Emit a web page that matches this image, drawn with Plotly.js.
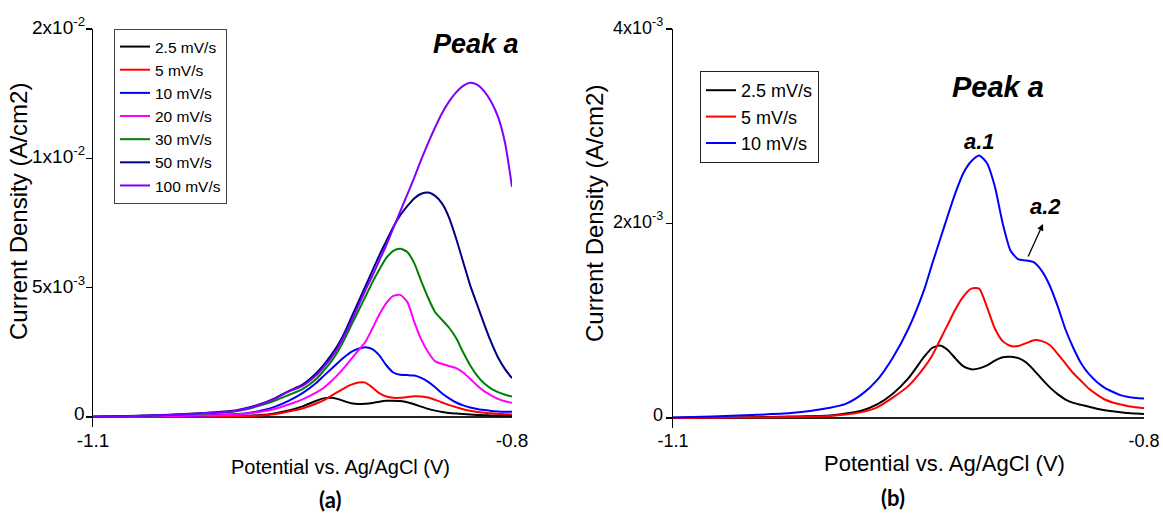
<!DOCTYPE html>
<html><head><meta charset="utf-8">
<script src="https://cdn.plot.ly/plotly-3.0.1.min.js"></script>
<style>html,body{margin:0;padding:0;background:#fff}#chart{width:1163px;height:513px}</style>
</head><body><div id="chart"></div>
<script>
// Potential (V vs Ag/AgCl)
const potential = [-1.1, -1.075, -1.05, -1.025, -1.0, -0.99, -0.98, -0.97, -0.96, -0.95, -0.94, -0.935, -0.93, -0.925, -0.92, -0.915, -0.91, -0.905, -0.9, -0.895, -0.89, -0.885, -0.88, -0.875, -0.87, -0.865, -0.86, -0.855, -0.85, -0.845, -0.84, -0.835, -0.83, -0.825, -0.82, -0.815, -0.81, -0.805, -0.8];
// Current density (A/cm2) for each scan rate
const j2_5 = [0.002e-3, 0.004e-3, 0.008e-3, 0.015e-3, 0.025e-3, 0.045e-3, 0.075e-3, 0.14e-3, 0.25e-3, 0.41e-3, 0.63e-3, 0.72e-3, 0.745e-3, 0.70e-3, 0.61e-3, 0.53e-3, 0.50e-3, 0.51e-3, 0.54e-3, 0.59e-3, 0.625e-3, 0.63e-3, 0.615e-3, 0.57e-3, 0.49e-3, 0.40e-3, 0.315e-3, 0.245e-3, 0.19e-3, 0.155e-3, 0.135e-3, 0.115e-3, 0.095e-3, 0.08e-3, 0.07e-3, 0.06e-3, 0.05e-3, 0.045e-3, 0.04e-3];
const j5 = [0.001e-3, 0.003e-3, 0.005e-3, 0.01e-3, 0.02e-3, 0.035e-3, 0.06e-3, 0.11e-3, 0.21e-3, 0.33e-3, 0.52e-3, 0.64e-3, 0.80e-3, 0.96e-3, 1.12e-3, 1.25e-3, 1.33e-3, 1.33e-3, 1.14e-3, 0.92e-3, 0.79e-3, 0.74e-3, 0.74e-3, 0.77e-3, 0.80e-3, 0.79e-3, 0.75e-3, 0.66e-3, 0.56e-3, 0.46e-3, 0.38e-3, 0.30e-3, 0.24e-3, 0.19e-3, 0.16e-3, 0.14e-3, 0.12e-3, 0.11e-3, 0.10e-3];
const j10 = [0.005e-3, 0.015e-3, 0.03e-3, 0.05e-3, 0.105e-3, 0.145e-3, 0.24e-3, 0.39e-3, 0.62e-3, 0.92e-3, 1.32e-3, 1.58e-3, 1.83e-3, 2.08e-3, 2.32e-3, 2.52e-3, 2.64e-3, 2.70e-3, 2.62e-3, 2.38e-3, 2.0e-3, 1.72e-3, 1.63e-3, 1.62e-3, 1.60e-3, 1.51e-3, 1.36e-3, 1.15e-3, 0.91e-3, 0.72e-3, 0.56e-3, 0.45e-3, 0.37e-3, 0.31e-3, 0.27e-3, 0.235e-3, 0.215e-3, 0.205e-3, 0.20e-3];
const j20 = [0.005e-3, 0.015e-3, 0.03e-3, 0.055e-3, 0.09e-3, 0.13e-3, 0.20e-3, 0.31e-3, 0.48e-3, 0.68e-3, 0.95e-3, 1.12e-3, 1.35e-3, 1.62e-3, 1.92e-3, 2.25e-3, 2.58e-3, 2.90e-3, 3.42e-3, 3.96e-3, 4.4e-3, 4.68e-3, 4.72e-3, 4.45e-3, 3.68e-3, 3.0e-3, 2.5e-3, 2.15e-3, 2.05e-3, 1.97e-3, 1.89e-3, 1.72e-3, 1.48e-3, 1.22e-3, 1.0e-3, 0.84e-3, 0.70e-3, 0.61e-3, 0.55e-3];
const j30 = [0.01e-3, 0.03e-3, 0.07e-3, 0.12e-3, 0.2e-3, 0.30e-3, 0.45e-3, 0.63e-3, 0.85e-3, 1.08e-3, 1.48e-3, 1.78e-3, 2.1e-3, 2.5e-3, 3.0e-3, 3.55e-3, 4.1e-3, 4.65e-3, 5.2e-3, 5.7e-3, 6.15e-3, 6.42e-3, 6.5e-3, 6.38e-3, 5.95e-3, 5.25e-3, 4.6e-3, 4.05e-3, 3.75e-3, 3.45e-3, 3.05e-3, 2.5e-3, 2.0e-3, 1.6e-3, 1.3e-3, 1.1e-3, 0.96e-3, 0.86e-3, 0.79e-3];
const j50 = [0.01e-3, 0.035e-3, 0.08e-3, 0.14e-3, 0.24e-3, 0.35e-3, 0.5e-3, 0.72e-3, 1.0e-3, 1.25e-3, 1.7e-3, 2.0e-3, 2.35e-3, 2.75e-3, 3.25e-3, 3.85e-3, 4.45e-3, 5.05e-3, 5.65e-3, 6.25e-3, 6.8e-3, 7.35e-3, 7.8e-3, 8.15e-3, 8.45e-3, 8.63e-3, 8.68e-3, 8.55e-3, 8.25e-3, 7.7e-3, 6.9e-3, 6.0e-3, 5.1e-3, 4.35e-3, 3.6e-3, 2.9e-3, 2.3e-3, 1.85e-3, 1.5e-3];
const j100 = [0.01e-3, 0.03e-3, 0.07e-3, 0.13e-3, 0.22e-3, 0.33e-3, 0.48e-3, 0.70e-3, 0.98e-3, 1.2e-3, 1.62e-3, 1.92e-3, 2.25e-3, 2.65e-3, 3.15e-3, 3.7e-3, 4.3e-3, 4.9e-3, 5.45e-3, 6.05e-3, 6.65e-3, 7.3e-3, 7.95e-3, 8.6e-3, 9.25e-3, 9.95e-3, 10.6e-3, 11.2e-3, 11.75e-3, 12.2e-3, 12.55e-3, 12.8e-3, 12.92e-3, 12.85e-3, 12.6e-3, 12.2e-3, 11.6e-3, 10.6e-3, 8.9e-3];

const seriesNames = ['2.5 mV/s', '5 mV/s', '10 mV/s', '20 mV/s', '30 mV/s', '50 mV/s', '100 mV/s'];
const seriesA = [j2_5, j5, j10, j20, j30, j50, j100];
const seriesB = [j2_5, j5, j10];
const seriesColors = ['#000000', '#ff0000', '#0000ff', '#ff00ff', '#008000', '#000080', '#8000ff'];

const xTickVals = [-1.1, -0.8];
const xTickText = ['-1.1', '-0.8'];
const yTickValsA = [0, 0.005, 0.01, 0.015];
const yTickTextA = ['0', '5x10<sup>-3</sup>', '1x10<sup>-2</sup>', '2x10<sup>-2</sup>'];
const yTickValsB = [0, 0.002, 0.004];
const yTickTextB = ['0', '2x10<sup>-3</sup>', '4x10<sup>-3</sup>'];

const W = 1163, H = 513;
const px = v => v / W;
const py = v => 1 - v / H;
const REG = 'Liberation Sans, Arial, sans-serif';
const BOLDF = 'Lato, Liberation Sans, sans-serif';

const traces = [];
seriesA.forEach((s, i) => traces.push({
  x: potential, y: s, type: 'scatter', mode: 'lines', name: seriesNames[i],
  line: {color: seriesColors[i], width: 2, shape: 'spline', smoothing: 0.6},
  xaxis: 'x', yaxis: 'y', legend: 'legend', hoverinfo: 'skip'
}));
seriesB.forEach((s, i) => traces.push({
  x: potential, y: s, type: 'scatter', mode: 'lines', name: seriesNames[i],
  line: {color: seriesColors[i], width: 2, shape: 'spline', smoothing: 0.6},
  xaxis: 'x2', yaxis: 'y2', legend: 'legend2', hoverinfo: 'skip'
}));

const yCommon = {
  showgrid: false, showline: true, linecolor: '#000', linewidth: 1.5,
  ticks: 'outside', ticklen: 6, tickwidth: 1.5, tickcolor: '#000',
  zeroline: true, zerolinecolor: '#222', zerolinewidth: 1.5,
  tickmode: 'array', showticklabels: false
};
const xCommon = {
  showgrid: false, showline: false, zeroline: false, ticks: '',
  tickmode: 'array', tickvals: xTickVals, ticktext: xTickText, range: [-1.1, -0.8]
};

// y tick labels drawn as annotations so they sit right against the tick marks
const tickAnnots = [];
yTickValsA.forEach((v, i) => tickAnnots.push({
  text: yTickTextA[i], xref: 'paper', yref: 'y', x: px(87), y: v, yshift: 3,
  xanchor: 'right', yanchor: 'middle', showarrow: false, font: {family: REG, size: 19, color: '#000'}
}));
yTickValsB.forEach((v, i) => tickAnnots.push({
  text: yTickTextB[i], xref: 'paper', yref: 'y2', x: px(665), y: v, yshift: 3,
  xanchor: 'right', yanchor: 'middle', showarrow: false, font: {family: REG, size: 18, color: '#000'}
}));

const layout = {
  width: W, height: H, margin: {l: 0, r: 0, t: 0, b: 0},
  paper_bgcolor: '#fff', plot_bgcolor: '#fff',
  font: {family: REG, color: '#000'},
  showlegend: true,
  xaxis: Object.assign({}, xCommon, {domain: [px(93), px(512)], anchor: 'y',
    tickfont: {family: REG, size: 19}}),
  yaxis: Object.assign({}, yCommon, {domain: [py(427), py(29)], anchor: 'x',
    range: [-0.000387, 0.015], tickvals: yTickValsA}),
  xaxis2: Object.assign({}, xCommon, {domain: [px(673), px(1144)], anchor: 'y2',
    tickfont: {family: REG, size: 18}}),
  yaxis2: Object.assign({}, yCommon, {domain: [py(428), py(29)], anchor: 'x2',
    range: [-0.000103, 0.004], tickvals: yTickValsB}),
  legend: {x: px(114), y: py(29), xanchor: 'left', yanchor: 'top',
    bgcolor: '#fff', bordercolor: '#444', borderwidth: 1,
    font: {family: REG, size: 15.5, color: '#000'}, tracegroupgap: 0},
  legend2: {x: px(700), y: py(71), xanchor: 'left', yanchor: 'top',
    bgcolor: '#fff', bordercolor: '#222', borderwidth: 1,
    font: {family: REG, size: 18, color: '#000'}, tracegroupgap: 0},
  annotations: tickAnnots.concat([
    {text: 'Current Density (A/cm2)', xref: 'paper', yref: 'paper', x: px(18), y: py(212),
      textangle: -90, showarrow: false, font: {family: REG, size: 24}, xanchor: 'center', yanchor: 'middle'},
    {text: 'Potential vs. Ag/AgCl (V)', xref: 'paper', yref: 'paper', x: px(340), y: py(467),
      showarrow: false, font: {family: REG, size: 20}, xanchor: 'center', yanchor: 'middle'},
    {text: '<b>(a)</b>', xref: 'paper', yref: 'paper', x: px(330), y: py(499),
      showarrow: false, font: {family: BOLDF, size: 22}, xanchor: 'center', yanchor: 'middle'},
    {text: '<b><i>Peak a</i></b>', xref: 'paper', yref: 'paper', x: px(476), y: py(44),
      showarrow: false, font: {family: REG, size: 27}, xanchor: 'center', yanchor: 'middle'},
    {text: 'Current Density (A/cm2)', xref: 'paper', yref: 'paper', x: px(594), y: py(214),
      textangle: -90, showarrow: false, font: {family: REG, size: 24}, xanchor: 'center', yanchor: 'middle'},
    {text: 'Potential vs. Ag/AgCl (V)', xref: 'paper', yref: 'paper', x: px(944), y: py(463),
      showarrow: false, font: {family: REG, size: 22}, xanchor: 'center', yanchor: 'middle'},
    {text: '<b>(b)</b>', xref: 'paper', yref: 'paper', x: px(893), y: py(497),
      showarrow: false, font: {family: BOLDF, size: 22}, xanchor: 'center', yanchor: 'middle'},
    {text: '<b><i>Peak a</i></b>', xref: 'paper', yref: 'paper', x: px(998), y: py(87),
      showarrow: false, font: {family: REG, size: 29}, xanchor: 'center', yanchor: 'middle'},
    {text: '<b><i>a.1</i></b>', xref: 'paper', yref: 'paper', x: px(979), y: py(141),
      showarrow: false, font: {family: REG, size: 22}, xanchor: 'center', yanchor: 'middle'},
    {text: '<b><i>a.2</i></b>', xref: 'paper', yref: 'paper', x: px(1045), y: py(207),
      showarrow: false, font: {family: REG, size: 22}, xanchor: 'center', yanchor: 'middle'},
    {text: ' ', xref: 'paper', yref: 'paper', x: px(1043), y: py(224), ax: -16, ay: 35,
      showarrow: true, arrowhead: 2, arrowsize: 1, arrowwidth: 1.3, arrowcolor: '#000',
      standoff: 0, startstandoff: 0, font: {size: 2}}
  ])
};

Plotly.newPlot('chart', traces, layout, {staticPlot: true, displayModeBar: false});
</script>
</body></html>
